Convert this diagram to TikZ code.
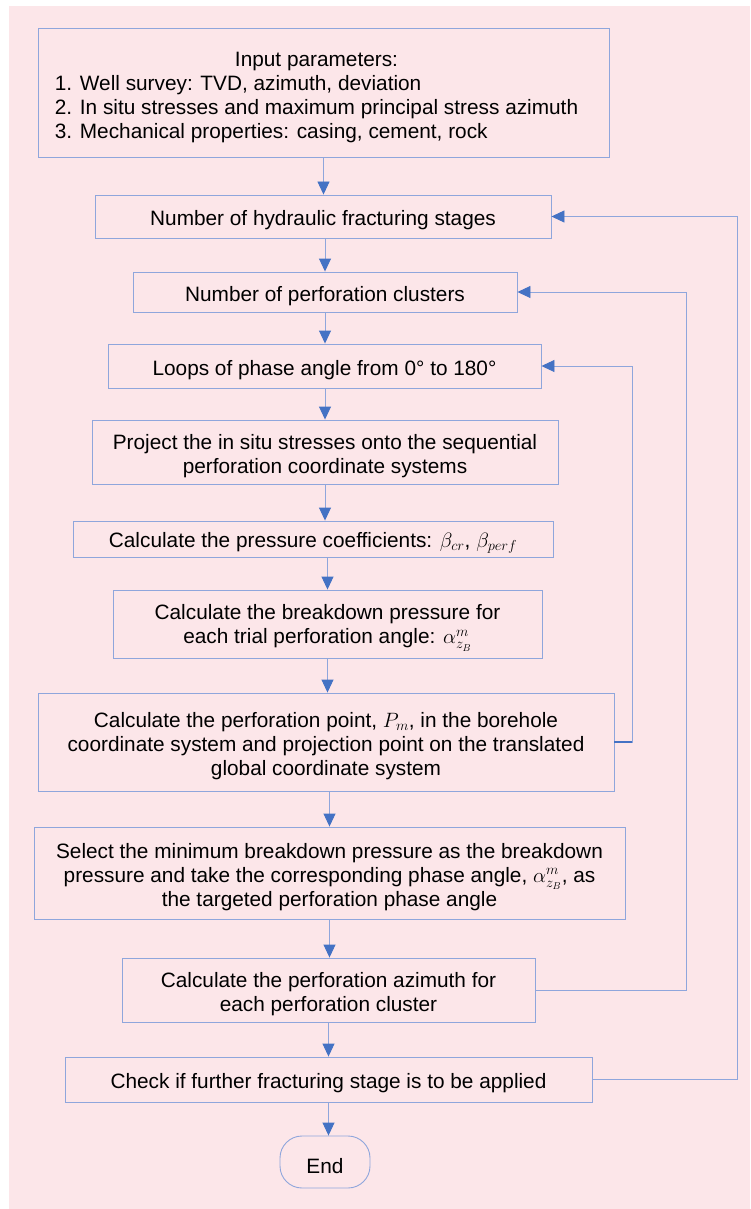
\documentclass[tikz,border=0pt]{standalone}
\usepackage{fontspec}
\setmainfont{Liberation Sans}
\usetikzlibrary{arrows.meta}

\definecolor{bgpink}{RGB}{252,230,233}
\definecolor{edgeblue}{RGB}{143,166,220}
\definecolor{tipblue}{RGB}{68,114,196}

% taller first line: pushes the box text slightly below the geometric centre
\newcommand\firstline{\rule{0pt}{23pt}}

\begin{document}
\begin{tikzpicture}[x=1pt,y=-1pt,
  box/.style={draw=edgeblue, line width=0.9pt, inner sep=0pt, align=center,
    font=\fontsize{20.8}{24}\selectfont, text=black},
  arr/.style={draw=edgeblue, line width=0.9pt,
    -{Triangle[length=13pt,width=12pt,color=tipblue]}},
  feed/.style={draw=tipblue, line width=2pt}]

% page and background panel
\fill[white] (0,0) rectangle (750,1209);
\fill[bgpink] (9,6) rectangle (750,1209);
\useasboundingbox (0,0) rectangle (750,1209);

% process boxes
\node[box, minimum width=571pt, minimum height=129pt] (input) at (323.5,92.5)
  {\begin{tabular}{@{}l@{}}
   \multicolumn{1}{@{}c@{}}{\rule{0pt}{27.5pt}Input parameters:}\\
   1. Well survey: TVD, azimuth, deviation\\
   2. In situ stresses and maximum principal stress azimuth\\
   3. Mechanical properties: casing, cement, rock
   \end{tabular}\hspace*{14pt}};

\node[box, minimum width=456pt, minimum height=43pt] (stages) at (323,216.5)
  {\firstline Number of hydraulic fracturing stages};

\node[box, minimum width=384pt, minimum height=40pt] (clusters) at (325,292)
  {\firstline Number of perforation clusters};

\node[box, minimum width=433pt, minimum height=44pt] (loops) at (324.5,366)
  {\firstline Loops of phase angle from 0° to 180°};

\node[box, minimum width=466pt, minimum height=64pt] (project) at (325,452)
  {\firstline Project the in situ stresses onto the sequential\\perforation coordinate systems};

\node[box, minimum width=480pt, minimum height=36pt] (coeff) at (313,539)
  {\firstline Calculate the pressure coefficients: $\beta_{cr}$, $\beta_{perf}$};

\node[box, minimum width=429pt, minimum height=68pt] (breakdown) at (327.5,624)
  {\firstline Calculate the breakdown pressure for\\each trial perforation angle: $\alpha^{m}_{z_B}$};

\node[box, minimum width=576pt, minimum height=98pt] (perf) at (326,742)
  {\firstline Calculate the perforation point, $P_m$, in the borehole\\
   coordinate system and projection point on the translated\\
   global coordinate system};

\node[box, minimum width=591pt, minimum height=92pt] (select) at (329.5,873)
  {\firstline Select the minimum breakdown pressure as the breakdown\\
   pressure and take the corresponding phase angle, $\alpha^{m}_{z_B}$, as\\
   the targeted perforation phase angle};

\node[box, minimum width=413pt, minimum height=64pt] (azimuth) at (328.5,990)
  {\firstline Calculate the perforation azimuth for\\each perforation cluster};

\node[box, minimum width=527pt, minimum height=45pt] (check) at (328.5,1079.5)
  {\firstline Check if further fracturing stage is to be applied};

\node[box, rounded corners=22pt, minimum width=90pt, minimum height=52pt] (end) at (325,1162)
  {\firstline End};

% main flow
\draw[arr] (input.south) -- (input.south |- stages.north);
\draw[arr] (clusters.north |- stages.south) -- (clusters.north);
\draw[arr] (clusters.south) -- (clusters.south |- loops.north);
\draw[arr] (project.north |- loops.south) -- (project.north);
\draw[arr] (project.south) -- (project.south |- coeff.north);
\draw[arr] (breakdown.north |- coeff.south) -- (breakdown.north);
\draw[arr] (breakdown.south) -- (breakdown.south |- perf.north);
\draw[arr] (select.north |- perf.south) -- (select.north);
\draw[arr] (select.south) -- (select.south |- azimuth.north);
\draw[arr] (azimuth.south) -- (azimuth.south |- check.north);
\draw[arr] (check.south) -- (check.south |- end.north);

% feedback loops on the right
\coordinate (railA) at (632,0);
\coordinate (railB) at (686,0);
\coordinate (railC) at (737,0);

\draw[arr] (perf.east) -- (perf.east -| railA) -- (loops.east -| railA) -- (loops.east);
\draw[feed] (perf.east) -- (perf.east -| railA);
\draw[arr] (azimuth.east) -- (azimuth.east -| railB) -- (clusters.east -| railB) -- (clusters.east);
\draw[arr] (check.east) -- (check.east -| railC) -- (stages.east -| railC) -- (stages.east);

\end{tikzpicture}
\end{document}
